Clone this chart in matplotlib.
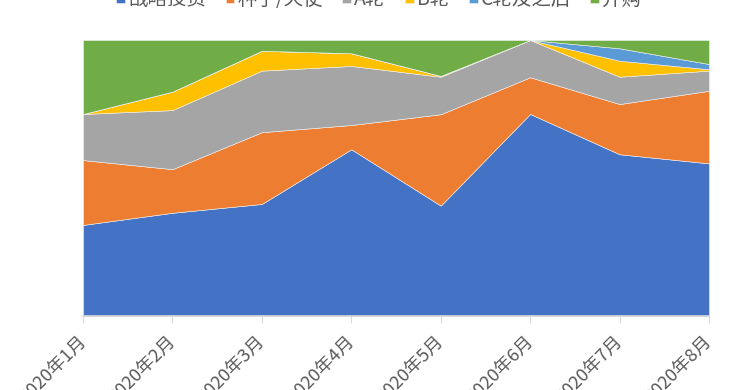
import numpy as np
import matplotlib
matplotlib.use("Agg")
import matplotlib.pyplot as plt
import matplotlib.transforms as mtransforms

plt.rcParams['font.family'] = ['Noto Sans CJK SC', 'DejaVu Sans']

months = ["2020年1月", "2020年2月", "2020年3月", "2020年4月",
          "2020年5月", "2020年6月", "2020年7月", "2020年8月"]
series_names = ["战略投资", "种子/天使", "A轮", "B轮", "C轮及之后", "并购"]

strategic = [33.0, 37.4, 40.6, 60.4, 40.0, 73.2, 58.6, 55.3]
seed = [23.5, 15.8, 26.0, 8.8, 33.1, 13.3, 18.2, 26.3]
round_a = [16.7, 21.4, 22.3, 21.4, 13.6, 13.5, 9.9, 7.3]
round_b = [0.0, 6.7, 7.2, 4.6, 0.3, 0.0, 5.8, 0.5]
round_c = [0.0, 0.0, 0.0, 0.0, 0.0, 0.0, 4.5, 1.9]
merger = [26.8, 18.7, 3.9, 4.8, 13.0, 0.0, 3.0, 8.7]

colors = ["#4472C4", "#ED7D31", "#A5A5A5", "#FFC000", "#5B9BD5", "#70AD47"]

data = np.array([strategic, seed, round_a, round_b, round_c, merger])
data = data / data.sum(axis=0) * 100
x = np.arange(len(months))

fig = plt.figure(figsize=(7.5, 3.9), dpi=100)
ax = fig.add_axes([0.1107, 0.1897, 0.8346, 0.7077])

ax.stackplot(x, data, colors=colors, labels=series_names,
             edgecolor="#F2F2F2", linewidth=0.4)

ax.set_xlim(0, len(months) - 1)
ax.set_ylim(0, 100)
ax.set_yticks([])
for s in ["left", "right", "top"]:
    ax.spines[s].set_visible(False)
ax.spines["bottom"].set_color("#D9D9D9")
ax.spines["bottom"].set_linewidth(1.2)
ax.set_xticks(x)
ax.set_xticklabels(months, rotation=45, ha="right", va="top",
                   rotation_mode="anchor", fontsize=13, color="#595959")
ax.tick_params(axis="x", length=5, color="#D9D9D9", pad=7)
shift = mtransforms.ScaledTranslation(-6 / 100, 0, fig.dpi_scale_trans)
for lbl in ax.get_xticklabels():
    lbl.set_transform(lbl.get_transform() + shift)

fig.legend(loc="center", bbox_to_anchor=(0.505, 1.001), ncol=6, frameon=False,
           fontsize=14, labelcolor="#595959", handlelength=0.46,
           handleheight=0.46, handletextpad=0.15, columnspacing=1.0)

fig.savefig("out.png", dpi=100)
